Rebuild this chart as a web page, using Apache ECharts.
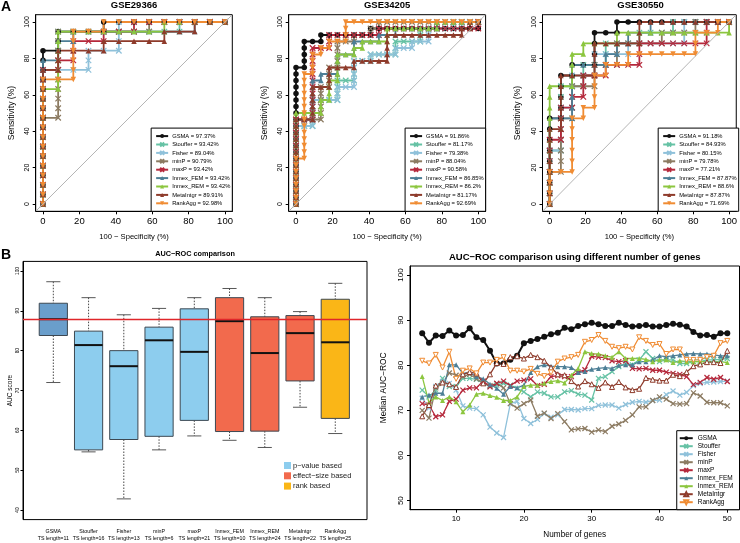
<!DOCTYPE html>
<html>
<head>
<meta charset="utf-8">
<script src="https://cdn.jsdelivr.net/npm/echarts@6/dist/echarts.min.js"></script>
<style>
html, body { margin: 0; padding: 0; background: #fff; }
#main { width: 740px; height: 543px; }
</style>
</head>
<body>
<div id="main"></div>
<script>
// ---- data ----
const methods = ['GSMA', 'Stouffer', 'Fisher', 'minP', 'maxP', 'Inmex_FEM', 'Inmex_REM', 'MetaIntgr', 'RankAgg'];

// panel A: ROC curves, step order (U = next positive, R = next negative)
const rocTitles = ['GSE29366', 'GSE34205', 'GSE30550'];
const rocPositives = [19, 28, 17];
const rocNegatives = [12, 22, 16];
const rocAuc1 = ['97.37', '93.42', '89.04', '90.79', '93.42', '93.42', '93.42', '89.91', '92.98'];
const rocAuc2 = ['91.86', '81.17', '79.38', '88.04', '90.58', '86.85', '86.2', '81.17', '92.69'];
const rocAuc3 = ['91.18', '84.93', '80.15', '79.78', '77.21', '87.87', '88.6', '87.87', '71.69'];
const rocSteps1 = [
  'U16 R1 U2 R3 U1 R8',
  'U14 R1 U4 R8 U1 R3',
  'U14 R3 U2 R2 U3 R7',
  'U9 R1 U9 R6 U1 R5',
  'U14 R1 U1 R1 U2 R2 U1 R2 U1 R6',
  'U15 R1 U2 R1 U1 R8 U1 R2',
  'U12 R1 U6 R7 U1 R4',
  'U14 R1 U2 R3 U1 R4 U1 R2 U1 R2',
  'U13 R2 U5 R2 U1 R8'
];
const rocSteps2 = [
  'U21 R1 U4 R2 U1 R6 U1 R13 U1',
  'U12 R2 U4 R3 U3 R2 U3 R2 U1 R3 U2 R3 U2 R4 U1 R3',
  'U12 R2 U4 R3 U2 R2 U4 R2 U1 R3 U1 R2 U1 R2 U2 R4 U1 R2',
  'U13 R3 U5 R1 U3 R1 U4 R2 U1 R2 U1 R1 U1 R12',
  'U13 R2 U11 R2 U2 R6 U1 R12 U1',
  'U13 R2 U6 R1 U1 R2 U3 R2 U2 R3 U1 R2 U1 R5 U1 R5',
  'U14 R3 U2 R1 U3 R1 U4 R2 U1 R1 U1 R3 U2 R6 U1 R5',
  'U13 R2 U5 R2 U3 R3 U1 R4 U4 R9 U1 R1 U1 R1',
  'U7 R1 U13 R1 U3 R1 U1 R1 U1 R2 U3 R16'
];
const rocSteps3 = [
  'U8 R1 U4 R1 U1 R2 U3 R2 U1 R10',
  'U5 R1 U6 R2 U2 R2 U2 R3 U1 R3 U1 R5',
  'U5 R1 U4 R1 U3 R2 U2 R3 U1 R5 U2 R4',
  'U3 R1 U5 R1 U3 R2 U2 R2 U2 R4 U1 R3 U1 R3',
  'U6 R1 U3 R1 U1 R1 U2 R2 U1 R3 U2 R6 U2 R2',
  'U8 R2 U5 R3 U1 R1 U1 R1 U1 R2 U1 R7',
  'U11 R2 U3 R1 U1 R3 U1 R10 U1',
  'U7 R1 U5 R3 U3 R4 U2 R8',
  'U3 R2 U5 R1 U1 R1 U3 R1 U1 R2 U1 R6 U2 R2 U1 R1'
];
const rocTicks = [0, 20, 40, 60, 80, 100];

// panel B left: AUC boxplot
const boxLabels = ['GSMA\nTS length=11', 'Stouffer\nTS length=16', 'Fisher\nTS length=13', 'minP\nTS length=6',
  'maxP\nTS length=21', 'Inmex_FEM\nTS length=10', 'Inmex_REM\nTS length=24', 'MetaIntgr\nTS length=22', 'RankAgg\nTS length=25'];
const boxLow = [72.0, 54.6, 42.8, 55.1, 58.6, 57.5, 55.7, 65.8, 59.2];
const boxQ1 = [83.8, 55.1, 57.7, 58.5, 62.5, 59.7, 59.8, 72.4, 63.0];
const boxMedian = [87.9, 81.4, 76.1, 82.6, 79.7, 87.4, 79.4, 84.4, 82.1];
const boxQ3 = [91.9, 84.9, 80.0, 85.9, 90.5, 93.3, 88.5, 88.8, 92.9];
const boxHigh = [97.3, 93.3, 89.0, 90.6, 93.3, 95.6, 93.3, 89.8, 96.9];
const boxGroup = ['gsma', 'p', 'p', 'p', 'p', 'e', 'e', 'e', 'r'];
const groupNames = ['p−value based', 'effect−size based', 'rank based'];
const refLine = 87.9;
const boxTicks = [40, 50, 60, 70, 80, 90, 100];

// panel B right: median AUC vs number of genes
const genes = [5, 6, 7, 8, 9, 10, 11, 12, 13, 14, 15, 16, 17, 18, 19, 20, 21, 22, 23, 24, 25, 26, 27,
  28, 29, 30, 31, 32, 33, 34, 35, 36, 37, 38, 39, 40, 41, 42, 43, 44, 45, 46, 47, 48, 49, 50];
const medGSMA = [87.1, 85.0, 86.6, 86.5, 87.7, 86.6, 86.7, 88.2, 86.2, 85.6, 83.2, 80.4, 80.4, 81.2, 82.1, 84.9, 85.4, 85.8, 86.3, 86.9, 87.2, 88.3, 88.0,
  88.7, 89.1, 89.4, 89.1, 88.7, 88.7, 89.4, 88.9, 88.6, 88.7, 88.9, 88.6, 88.6, 88.9, 89.2, 89.0, 88.6, 87.4, 86.6, 86.7, 86.3, 87.1, 87.1];
const medStouffer = [74.5, 73.0, 74.5, 77.1, 75.3, 75.3, 77.1, 77.1, 76.9, 76.0, 75.3, 75.6, 76.0, 75.6, 74.9, 74.1, 73.0, 74.1, 73.8, 73.0, 73.0, 74.1, 74.4,
  73.6, 73.4, 72.3, 77.1, 77.5, 78.6, 79.7, 80.4, 80.1, 81.2, 83.0, 81.5, 80.8, 81.2, 81.2, 80.4, 80.4, 80.8, 80.8, 81.2, 81.2, 81.3, 81.5];
const medFisher = [72.7, 70.5, 75.3, 76.4, 76.0, 74.5, 71.0, 70.5, 70.4, 69.0, 66.3, 65.0, 64.0, 71.5, 72.0, 68.2, 67.1, 68.0, 69.3, 68.5, 69.0, 70.2, 70.2,
  70.1, 70.4, 70.4, 71.1, 71.2, 71.2, 70.5, 71.3, 71.8, 72.0, 71.8, 72.2, 72.3, 73.5, 74.3, 73.4, 74.0, 75.5, 76.0, 76.2, 76.3, 76.4, 76.5];
const medMinP = [70.0, 68.3, 75.0, 76.0, 78.3, 77.8, 77.5, 78.0, 77.0, 76.0, 75.5, 76.0, 75.0, 71.5, 70.5, 71.5, 72.3, 68.7, 69.4, 68.2, 69.3, 67.5, 65.7,
  65.9, 66.0, 65.2, 65.7, 65.3, 66.5, 67.0, 67.8, 69.0, 70.8, 70.8, 72.2, 73.0, 72.5, 71.5, 71.4, 71.5, 73.9, 73.2, 71.8, 71.7, 71.7, 71.0];
const medMaxP = [71.5, 71.2, 68.6, 69.0, 72.0, 72.5, 74.5, 75.0, 75.0, 76.5, 75.2, 76.0, 76.5, 75.5, 76.5, 76.7, 77.0, 75.5, 75.8, 77.5, 77.7, 77.5, 77.5,
  78.5, 79.0, 82.0, 81.8, 81.7, 81.0, 80.8, 81.0, 79.3, 79.2, 79.3, 78.9, 78.9, 78.5, 78.2, 78.0, 77.5, 75.7, 76.2, 77.3, 76.9, 77.3, 76.4];
const medFEM = [73.0, 73.4, 73.8, 73.8, 80.1, 80.1, 78.2, 78.4, 77.5, 77.0, 75.8, 74.9, 73.6, 75.3, 75.0, 75.6, 78.4, 79.7, 80.1, 79.8, 79.7, 79.7, 79.5,
  78.4, 78.6, 79.1, 79.3, 79.5, 79.3, 80.0, 80.1, 80.1, 80.8, 80.8, 81.2, 82.1, 81.9, 82.1, 82.3, 82.5, 82.6, 82.5, 82.5, 82.3, 82.1, 82.1];
const medREM = [77.5, 71.7, 73.0, 72.2, 73.0, 71.9, 69.7, 71.2, 73.6, 73.8, 73.3, 72.9, 72.2, 72.2, 73.0, 75.3, 75.6, 75.6, 76.0, 76.4, 76.6, 76.1, 77.8,
  79.3, 83.0, 82.6, 82.5, 82.1, 81.8, 83.0, 81.5, 81.5, 81.5, 81.3, 80.8, 81.2, 81.2, 80.6, 81.0, 80.8, 80.8, 80.8, 80.8, 80.8, 80.8, 80.6];
const medMetaIntgr = [68.7, 71.2, 75.5, 76.2, 75.8, 75.2, 78.0, 78.5, 78.2, 76.0, 78.0, 80.5, 80.3, 81.8, 82.0, 81.5, 82.3, 81.8, 81.0, 79.5, 78.0, 77.8, 76.5,
  75.3, 76.5, 75.8, 75.0, 76.2, 75.2, 76.3, 75.1, 74.5, 74.8, 77.2, 76.8, 76.6, 76.6, 77.9, 77.6, 78.5, 79.8, 80.2, 80.7, 80.7, 80.5, 83.2];
const medRankAgg = [81.0, 80.4, 82.3, 79.5, 83.0, 77.0, 78.8, 79.3, 78.2, 80.6, 80.6, 81.2, 81.8, 78.8, 78.8, 78.6, 79.2, 78.1, 77.6, 78.4, 80.8, 81.5, 81.8,
  82.3, 85.2, 85.6, 86.7, 85.4, 84.1, 83.8, 84.1, 83.5, 86.2, 85.4, 84.5, 84.7, 82.5, 83.5, 83.5, 81.2, 81.2, 81.2, 81.8, 82.1, 84.9, 85.4];
const lineTicksX = [10, 20, 30, 40, 50];
const lineTicksY = [50, 60, 70, 80, 90, 100];

// ---- styles ----
const FONT = '"Liberation Sans", Arial, sans-serif';
const methodColors = ['#111111', '#66c2a5', '#8fc1da', '#8c7b62', '#b5283b', '#4d7f96', '#8cc63f', '#8e3b2b', '#f08c33'];
const xPath = 'path://M0,0L10,10M10,0L0,10';
const upTri = 'path://M5,0L10,9L0,9Z';
const downTri = 'path://M0,0L10,0L5,9Z';
const methodSymbols = ['circle', xPath, xPath, xPath, xPath, 'triangle', 'triangle', upTri, downTri];
const methodHollow = [false, false, false, false, false, false, false, true, true];
const groupColors = { gsma: '#6a9ecb', p: '#8dcdee', e: '#f26a4d', r: '#fab617' };

function rocPoints(seq, nPos, nNeg) {
  const pts = [[0, 0]];
  let tp = 0, fp = 0;
  seq.split(' ').forEach(function (tok) {
    const n = +tok.slice(1);
    for (let k = 0; k < n; k++) {
      if (tok[0] === 'U') tp++; else fp++;
      pts.push([100 * fp / nNeg, 100 * tp / nPos]);
    }
  });
  return pts;
}

function methodStyle(i, size, width, hollowOk) {
  const c = methodColors[i];
  const sym = methodSymbols[i];
  let item = { color: c, borderWidth: 0 };
  if (sym === xPath) item = { color: c, borderColor: c, borderWidth: 1.2 };
  if (methodHollow[i] && hollowOk) item = { color: '#fff', borderColor: c, borderWidth: 1 };
  return {
    symbol: sym,
    symbolSize: size,
    showSymbol: true,
    showAllSymbol: true,
    lineStyle: { color: c, width: width },
    itemStyle: item,
    emphasis: { disabled: true },
    animation: false
  };
}

// ---- layout ----
const rocGrids = [
  { left: 35.7, top: 14.7, width: 196.6, height: 196.6 },
  { left: 288.7, top: 14.7, width: 196.9, height: 196.6 },
  { left: 542.5, top: 14.7, width: 196.2, height: 196.6 }
];
const boxFrame = { left: 23, top: 261.4, width: 344, height: 258.2 };
const boxData = { left: 35.7, top: 261.4, width: 317.2, height: 258.2 };
const lineFrame = { left: 410, top: 266, width: 329.5, height: 243.7 };

const grids = [], xAxes = [], yAxes = [], series = [], legends = [], graphics = [];
const frameStyle = { show: true, borderColor: '#000', borderWidth: 1, backgroundColor: 'transparent' };
const blackLine = { show: true, onZero: false, lineStyle: { color: '#000', width: 1 } };

const rocAucs = [rocAuc1, rocAuc2, rocAuc3];
const rocSteps = [rocSteps1, rocSteps2, rocSteps3];

rocGrids.forEach(function (g, k) {
  grids.push(Object.assign({}, g, frameStyle));
  xAxes.push({
    gridIndex: k, type: 'value', min: -4, max: 104,
    splitLine: { show: false }, axisLine: blackLine,
    axisTick: { show: true, length: 3, customValues: rocTicks, lineStyle: { color: '#000' } },
    axisLabel: { customValues: rocTicks, fontSize: 9.5, color: '#000', margin: 5, fontFamily: FONT },
    name: '100 − Specificity (%)', nameLocation: 'middle', nameGap: 22,
    nameTextStyle: { fontSize: 7.6, color: '#000', fontFamily: FONT }
  });
  yAxes.push({
    gridIndex: k, type: 'value', min: -4, max: 104,
    splitLine: { show: false }, axisLine: blackLine,
    axisTick: { show: true, length: 3, customValues: rocTicks, lineStyle: { color: '#000' } },
    axisLabel: { customValues: rocTicks, fontSize: 7, color: '#000', margin: 5, rotate: 90, fontFamily: FONT },
    name: 'Sensitivity (%)', nameLocation: 'middle', nameGap: 20,
    nameTextStyle: { fontSize: 8.6, color: '#000', fontFamily: FONT }
  });
  const names = [];
  methods.forEach(function (m, i) {
    const name = m + ' = ' + rocAucs[k][i] + '%';
    names.push(name);
    const s = Object.assign({
      type: 'line', name: name, xAxisIndex: k, yAxisIndex: k,
      data: rocPoints(rocSteps[k][i], rocPositives[k], rocNegatives[k])
    }, methodStyle(i, 5.5, 1.8, false));
    if (i === 0) {
      s.markLine = {
        silent: true, symbol: 'none', animation: false, label: { show: false },
        lineStyle: { color: '#b5b5b5', width: 1, type: 'solid' },
        data: [[{ coord: [-4, -4] }, { coord: [104, 104] }]]
      };
    }
    series.push(s);
  });
  legends.push({
    data: names, orient: 'vertical', selectedMode: false,
    right: 740 - (g.left + g.width), bottom: 543 - (g.top + g.height),
    itemWidth: 12, itemHeight: 5, itemGap: 2.4, padding: [5, 2, 5, 4],
    backgroundColor: '#fff', borderColor: '#000', borderWidth: 1,
    textStyle: { fontSize: 5.8, color: '#000', fontFamily: FONT, padding: [0, 0, 0, -1] }
  });
  graphics.push({
    type: 'text', x: g.left + g.width / 2, y: 5,
    style: { text: rocTitles[k], font: 'bold 9.5px ' + FONT, fill: '#000', align: 'center', verticalAlign: 'middle' }
  });
});

// boxplot: data grid (3) and frame grid (4)
grids.push(Object.assign({}, boxData, { show: false }));
grids.push(Object.assign({}, boxFrame, frameStyle));
xAxes.push({
  gridIndex: 3, type: 'category', data: boxLabels,
  axisLine: { show: false }, axisTick: { show: false }, splitLine: { show: false },
  axisLabel: { interval: 0, fontSize: 5.3, lineHeight: 7.3, color: '#000', margin: 8, fontFamily: FONT }
});
xAxes.push({ gridIndex: 4, type: 'value', min: 0, max: 1, show: false });
yAxes.push({ gridIndex: 3, type: 'value', min: 37.6, max: 102.4, show: false });
yAxes.push({
  gridIndex: 4, type: 'value', min: 37.6, max: 102.4,
  splitLine: { show: false }, axisLine: blackLine,
  axisTick: { show: true, length: 2.5, customValues: boxTicks, lineStyle: { color: '#000' } },
  axisLabel: { customValues: boxTicks, fontSize: 4.8, color: '#000', margin: 3, rotate: 90, fontFamily: FONT },
  name: 'AUC score', nameLocation: 'middle', nameGap: 8,
  nameTextStyle: { fontSize: 6.5, color: '#000', fontFamily: FONT }
});

const boxRows = boxLabels.map(function (l, i) {
  return [i, boxLow[i], boxQ1[i], boxMedian[i], boxQ3[i], boxHigh[i]];
});
series.push({
  type: 'custom', name: 'AUC', xAxisIndex: 3, yAxisIndex: 3, data: boxRows,
  encode: { x: 0, y: [1, 2, 3, 4, 5] }, animation: false, silent: true,
  renderItem: function (params, api) {
    const i = api.value(0);
    const pLow = api.coord([i, api.value(1)]);
    const pQ1 = api.coord([i, api.value(2)]);
    const pMed = api.coord([i, api.value(3)]);
    const pQ3 = api.coord([i, api.value(4)]);
    const pHigh = api.coord([i, api.value(5)]);
    const band = api.size([1, 0])[0];
    const half = band * 0.4, cap = band * 0.2;
    const cx = pMed[0];
    const whisk = { stroke: '#333', lineWidth: 0.9, lineDash: [1.5, 1.5] };
    const capS = { stroke: '#444', lineWidth: 0.9 };
    return {
      type: 'group', children: [
        { type: 'line', shape: { x1: cx, y1: pHigh[1], x2: cx, y2: pQ3[1] }, style: whisk },
        { type: 'line', shape: { x1: cx, y1: pQ1[1], x2: cx, y2: pLow[1] }, style: whisk },
        { type: 'line', shape: { x1: cx - cap, y1: pHigh[1], x2: cx + cap, y2: pHigh[1] }, style: capS },
        { type: 'line', shape: { x1: cx - cap, y1: pLow[1], x2: cx + cap, y2: pLow[1] }, style: capS },
        { type: 'rect', shape: { x: cx - half, y: pQ3[1], width: 2 * half, height: pQ1[1] - pQ3[1] },
          style: { fill: groupColors[boxGroup[params.dataIndex]], stroke: '#3d4852', lineWidth: 1 } },
        { type: 'line', shape: { x1: cx - half, y1: pMed[1], x2: cx + half, y2: pMed[1] }, style: { stroke: '#111', lineWidth: 2 } }
      ]
    };
  }
});
series.push({
  type: 'line', name: 'ref', xAxisIndex: 4, yAxisIndex: 4, data: [], z: 5,
  markLine: {
    silent: true, symbol: 'none', animation: false, label: { show: false },
    lineStyle: { color: '#e0262a', width: 1.3, type: 'solid' },
    data: [{ yAxis: refLine }]
  }
});
['p', 'e', 'r'].forEach(function (g, j) {
  series.push({ type: 'bar', name: groupNames[j], xAxisIndex: 3, yAxisIndex: 3, data: [], itemStyle: { color: groupColors[g] } });
});
legends.push({
  data: groupNames, orient: 'vertical', selectedMode: false, left: 284, top: 461.5,
  icon: 'rect', itemWidth: 7, itemHeight: 7, itemGap: 2.3, padding: 0,
  textStyle: { fontSize: 7.5, color: '#222', fontFamily: FONT, padding: [0, 0, 0, -3] }
});

// line chart grid (5)
grids.push(Object.assign({}, lineFrame, frameStyle));
xAxes.push({
  gridIndex: 5, type: 'value', min: 3.2, max: 51.8,
  splitLine: { show: false }, axisLine: blackLine,
  axisTick: { show: true, length: 3, customValues: lineTicksX, lineStyle: { color: '#000' } },
  axisLabel: { customValues: lineTicksX, fontSize: 8, color: '#000', margin: 5, fontFamily: FONT },
  name: 'Number of genes', nameLocation: 'middle', nameGap: 21,
  nameTextStyle: { fontSize: 8.2, color: '#000', fontFamily: FONT }
});
yAxes.push({
  gridIndex: 5, type: 'value', min: 48, max: 102,
  splitLine: { show: false }, axisLine: blackLine,
  axisTick: { show: true, length: 3, customValues: lineTicksY, lineStyle: { color: '#000' } },
  axisLabel: { customValues: lineTicksY, fontSize: 8, color: '#000', margin: 5, rotate: 90, fontFamily: FONT },
  name: 'Median AUC−ROC', nameLocation: 'middle', nameGap: 22,
  nameTextStyle: { fontSize: 8.4, color: '#000', fontFamily: FONT }
});
const medians = [medGSMA, medStouffer, medFisher, medMinP, medMaxP, medFEM, medREM, medMetaIntgr, medRankAgg];
methods.forEach(function (m, i) {
  series.push(Object.assign({
    type: 'line', name: m, xAxisIndex: 5, yAxisIndex: 5,
    data: genes.map(function (g, j) { return [g, medians[i][j]]; })
  }, methodStyle(i, i === 0 ? 6 : 5, i === 0 ? 2 : 1.3, true)));
});
legends.push({
  data: methods, orient: 'vertical', selectedMode: false,
  right: 740 - (lineFrame.left + lineFrame.width), bottom: 543 - (lineFrame.top + lineFrame.height),
  itemWidth: 13, itemHeight: 5, itemGap: 1, padding: [4, 6, 4, 2],
  backgroundColor: '#fff', borderColor: '#000', borderWidth: 1,
  textStyle: { fontSize: 6.5, color: '#000', fontFamily: FONT }
});

// titles and panel letters
graphics.push({ type: 'text', x: 1, y: 0, style: { text: 'A', font: 'bold 14px ' + FONT, fill: '#000' } });
graphics.push({ type: 'text', x: 1, y: 248, style: { text: 'B', font: 'bold 14px ' + FONT, fill: '#000' } });
graphics.push({
  type: 'text', x: boxFrame.left + boxFrame.width / 2, y: 254,
  style: { text: 'AUC−ROC comparison', font: 'bold 7.3px ' + FONT, fill: '#000', align: 'center', verticalAlign: 'middle' }
});
graphics.push({
  type: 'text', x: lineFrame.left + lineFrame.width / 2, y: 257,
  style: { text: 'AUC−ROC comparison using different number of genes', font: 'bold 9.5px ' + FONT, fill: '#000', align: 'center', verticalAlign: 'middle' }
});

const chart = echarts.init(document.getElementById('main'), null, { renderer: 'canvas' });
chart.setOption({
  animation: false,
  backgroundColor: '#fff',
  textStyle: { fontFamily: FONT },
  grid: grids,
  xAxis: xAxes,
  yAxis: yAxes,
  legend: legends,
  graphic: graphics,
  series: series
});
</script>
</body>
</html>
